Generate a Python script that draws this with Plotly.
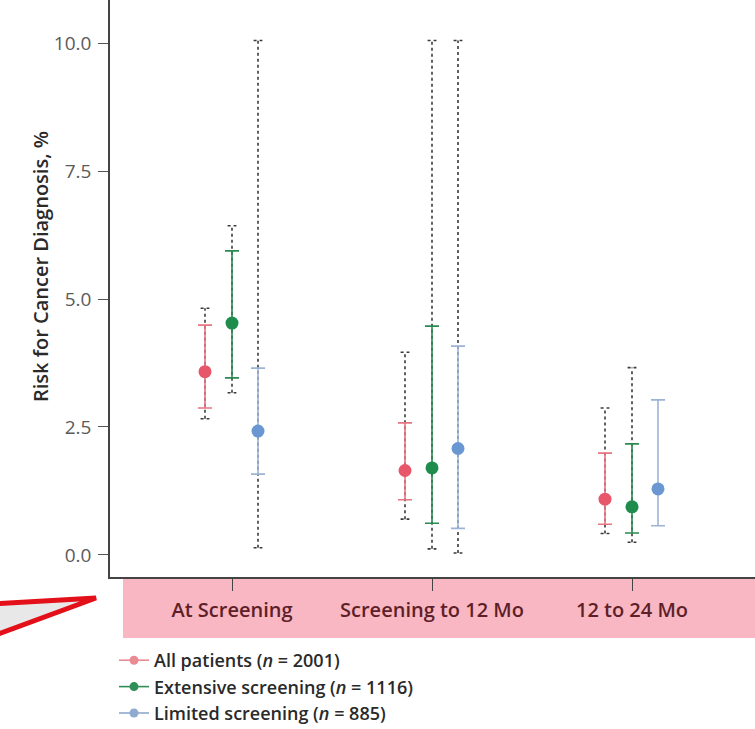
import plotly.graph_objects as go

categories = ["At Screening", "Screening to 12 Mo", "12 to 24 Mo"]
series_names = ["All patients (<i>n</i> = 2001)",
                "Extensive screening (<i>n</i> = 1116)",
                "Limited screening (<i>n</i> = 885)"]
y_title = "Risk for Cancer Diagnosis, %"

# point estimates (%)
all_est = [3.58, 1.65, 1.09]
ext_est = [4.53, 1.70, 0.94]
lim_est = [2.42, 2.08, 1.29]

# inner confidence interval (lower, upper)
all_lo = [2.87, 1.08, 0.60]
all_hi = [4.49, 2.58, 1.99]
ext_lo = [3.46, 0.62, 0.43]
ext_hi = [5.94, 4.47, 2.17]
lim_lo = [1.58, 0.52, 0.57]
lim_hi = [3.65, 4.08, 3.03]

# outer (dotted) range (lower, upper); None = not shown
all_olo = [2.66, 0.70, 0.42]
all_ohi = [4.82, 3.96, 2.87]
ext_olo = [3.17, 0.12, 0.25]
ext_ohi = [6.43, 10.05, 3.66]
lim_olo = [0.14, 0.04, None]
lim_ohi = [10.05, 10.05, None]

W, H = 755, 729
L, R, T, B = 110, 0, 0, 152
PW, PH = W - L - R, H - T - B

marker_colors = ["#e8566a", "#1e8c4c", "#6a97d2"]
ci_colors = ["#e67482", "#2a8a52", "#9cb3d6"]
legend_colors = ["#ea8a93", "#2f8f58", "#90a9cf"]
offsets = [-0.135, 0.0, 0.13]

fig = go.Figure()

est = [all_est, ext_est, lim_est]
lo = [all_lo, ext_lo, lim_lo]
hi = [all_hi, ext_hi, lim_hi]
olo = [all_olo, ext_olo, lim_olo]
ohi = [all_ohi, ext_ohi, lim_ohi]

cap = 0.022
# outer dotted ranges
for s in range(3):
    xs, ys = [], []
    cx, cy = [], []
    for i in range(3):
        if olo[s][i] is None:
            continue
        x = i + offsets[s]
        xs += [x, x, None]
        ys += [olo[s][i], ohi[s][i], None]
        for v in (olo[s][i], ohi[s][i]):
            cx += [x - cap, x + cap, None]
            cy += [v, v, None]
    fig.add_trace(go.Scatter(x=xs, y=ys, mode="lines", showlegend=False, hoverinfo="skip",
                             line=dict(color="#3a3a3a", width=1.6, dash="dot")))
    fig.add_trace(go.Scatter(x=cx, y=cy, mode="lines", showlegend=False, hoverinfo="skip",
                             line=dict(color="#3a3a3a", width=1.6, dash="dot")))

# estimates with inner CI
for s in range(3):
    xs = [i + offsets[s] for i in range(3)]
    fig.add_trace(go.Scatter(
        x=xs, y=est[s], mode="markers", showlegend=False,
        marker=dict(size=13, color=marker_colors[s]),
        error_y=dict(type="data", symmetric=False,
                     array=[h - e for h, e in zip(hi[s], est[s])],
                     arrayminus=[e - l for e, l in zip(est[s], lo[s])],
                     color=ci_colors[s], thickness=1.6, width=7)))

# legend entries
for s in range(3):
    fig.add_trace(go.Scatter(x=[None], y=[None], mode="lines+markers", name=series_names[s],
                             line=dict(color=legend_colors[s], width=1.6),
                             marker=dict(size=9, color=legend_colors[s])))

def px(x):
    return (x - L) / PW

def py(y):
    return (H - B - y) / PH

# pink category band
fig.add_shape(type="rect", xref="paper", yref="paper",
              x0=px(123), x1=px(755), y0=py(638), y1=py(578),
              fillcolor="#f8b7c3", line=dict(width=0), layer="below")

# red arrow marker
fig.add_shape(type="path", xref="paper", yref="paper",
              path=f"M {px(-10)},{py(604)} L {px(96)},{py(598)} L {px(-10)},{py(637)} Z",
              fillcolor="#e8e8e8", line=dict(color="#e3101a", width=5))

# y-axis title
fig.add_annotation(text=y_title, xref="paper", yref="paper", x=px(40), y=py(267),
                   textangle=-90, showarrow=False, xanchor="center", yanchor="middle",
                   font=dict(family="Open Sans", size=20, color="#2a2a2a", weight=600))

fig.update_layout(
    width=W, height=H,
    margin=dict(l=L, r=R, t=T, b=B, autoexpand=False),
    paper_bgcolor="white", plot_bgcolor="white",
    font=dict(family="Open Sans", color="#333"),
    xaxis=dict(range=[-0.61, 2.615], tickmode="array", tickvals=[0, 1, 2], ticktext=categories,
               showgrid=False, zeroline=False, showline=True, linecolor="#444", linewidth=1.5,
               ticks="outside", ticklen=12, tickcolor="#444", tickwidth=1.2,
               tickfont=dict(family="Open Sans", size=20, color="#5e1f29", weight=600),
               ticklabelstandoff=2, automargin=False),
    yaxis=dict(range=[-0.43, 10.84], tickmode="array", tickvals=[0, 2.5, 5, 7.5, 10],
               ticktext=["0.0", "2.5", "5.0", "7.5", "10.0"],
               showgrid=False, zeroline=False, showline=True, linecolor="#444", linewidth=1.5,
               ticks="outside", ticklen=10, tickcolor="#555", tickwidth=1.2,
               tickfont=dict(family="Open Sans", size=19, color="#5a5a5a"),
               ticklabelstandoff=3, automargin=False),
    legend=dict(x=px(114), y=py(642), xanchor="left", yanchor="top",
                font=dict(family="Open Sans", size=18, color="#2a2a2a", weight=600),
                bgcolor="rgba(0,0,0,0)", itemwidth=30, tracegroupgap=0),
)

fig.write_html("out.html", config={"displayModeBar": False},
               post_script="document.body.style.margin='0';document.body.style.overflow='hidden';")
